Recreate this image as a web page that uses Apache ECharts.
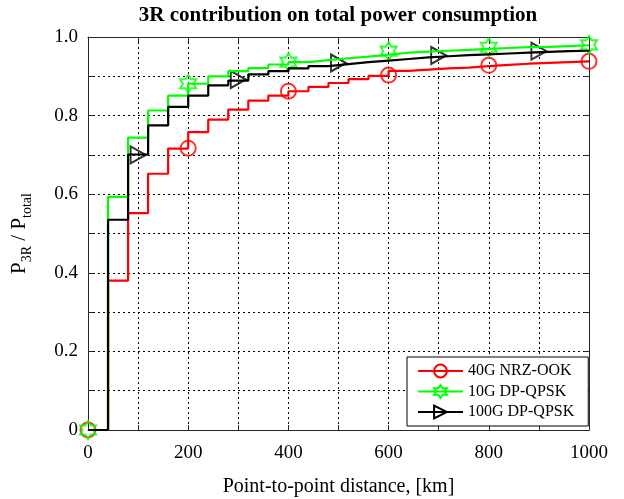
<!DOCTYPE html>
<html>
<head>
<meta charset="utf-8">
<script src="https://cdn.jsdelivr.net/npm/echarts@6/dist/echarts.min.js"></script>
<style>
html,body{margin:0;padding:0;background:#fff;}
#c{width:624px;height:499px;}
</style>
</head>
<body>
<div id="c"></div>
<script>
// Step positions (km)
const distances = [0,40,80,120,160,200,240,280,320,360,400,440,480,520,560,600,640,680,720,760,800,840,880,920,960,1000];
// Value holding from each distance to the next
const nrzOok40G = [0,0.38,0.552,0.652,0.716,0.758,0.790,0.815,0.838,0.851,0.862,0.873,0.883,0.893,0.901,0.914,0.917,0.920,0.922,0.926,0.929,0.932,0.934,0.936,0.938,0.938];
const dpQpsk10G = [0,0.593,0.744,0.813,0.851,0.881,0.900,0.913,0.921,0.930,0.936,0.941,0.946,0.950,0.955,0.960,0.963,0.965,0.967,0.970,0.972,0.974,0.975,0.977,0.979,0.979];
const dpQpsk100G = [0,0.535,0.701,0.775,0.822,0.851,0.877,0.889,0.905,0.913,0.920,0.926,0.931,0.936,0.940,0.944,0.948,0.951,0.954,0.956,0.958,0.960,0.962,0.964,0.965,0.965];

// Marker positions
const markerXA = [0,200,400,600,800,1000];
const nrzMarkers = [0,0.717,0.862,0.903,0.928,0.938];
const qpsk10Markers = [0,0.881,0.936,0.964,0.974,0.980];
const markerXB = [100,300,500,700,900];
const qpsk100Markers = [0.700,0.892,0.934,0.953,0.964];

const seriesNames = ['40G NRZ-OOK','10G DP-QPSK','100G DP-QPSK'];
const xTicks = [0,200,400,600,800,1000];
const yTicks = [0,0.2,0.4,0.6,0.8,1.0];

const RED = '#ff0000', GREEN = '#00ff00', BLACK = '#000000';
const CIRCLE = 'path://M0,10 A10,10 0 1,1 20,10 A10,10 0 1,1 0,10 Z';
const STAR = 'path://M10,0 L12.887,5 L18.66,5 L15.77,10 L18.66,15 L12.887,15 L10,20 L7.113,15 L1.34,15 L4.23,10 L1.34,5 L7.113,5 Z';
const TRI = 'path://M0,0 L20,10 L0,20 Z';
const SERIF = '"Liberation Serif","DejaVu Serif",serif';

function pairs(xs, ys){ return xs.map((x,i)=>[x, ys[i]]); }

function stepSeries(name, vals, color, sym){
  return {
    name: name, type: 'line', step: 'end', data: pairs(distances, vals),
    showSymbol: false, symbol: sym, clip: false, silent: true,
    lineStyle: {color: color, width: 2.2},
    itemStyle: {color: 'rgba(255,255,255,0)', borderColor: color, borderWidth: 2},
    animation: false
  };
}
function markerSeries(name, xs, ys, color, sym, size){
  return {
    name: name + ' markers', type: 'scatter', data: pairs(xs, ys),
    symbol: sym, symbolSize: size, clip: false, silent: true,
    itemStyle: {color: 'rgba(255,255,255,0)', borderColor: color, borderWidth: 2},
    animation: false
  };
}

const frameColor = '#262626';
const chart = echarts.init(document.getElementById('c'), null, {renderer: 'canvas'});
chart.setOption({
  backgroundColor: '#fff',
  animation: false,
  title: {
    text: '3R contribution on total power consumption',
    left: 338, top: 5, textAlign: 'center', padding: 0,
    textStyle: {fontFamily: SERIF, fontWeight: 'bold', fontSize: 21, color: '#000'}
  },
  grid: {left: 88, right: 35, top: 37, bottom: 69, containLabel: false, outerBoundsMode: 'none'},
  legend: {
    data: seriesNames,
    orient: 'vertical',
    left: 407, top: 357,
    padding: [6, 14, 6, 10],
    itemGap: 4.5,
    itemWidth: 45, itemHeight: 16,
    backgroundColor: '#fff',
    borderColor: '#000', borderWidth: 1,
    textStyle: {fontFamily: SERIF, fontSize: 16, color: '#000'},
    selectedMode: false
  },
  xAxis: [{
    type: 'value', min: 0, max: 1000, interval: 100, position: 'bottom',
    name: 'Point-to-point distance, [km]', nameLocation: 'middle', nameGap: 47,
    nameTextStyle: {fontFamily: SERIF, fontSize: 20, color: '#000'},
    axisLine: {show: true, onZero: false, lineStyle: {color: frameColor, width: 1}},
    axisTick: {show: true, inside: true, length: 5, lineStyle: {color: frameColor}},
    axisLabel: {
      fontFamily: SERIF, fontSize: 19, color: '#000', margin: 14,
      formatter: v => xTicks.indexOf(v) >= 0 ? String(v) : ''
    },
    splitLine: {show: true, lineStyle: {color: '#000', width: 1, type: [2, 3]}}
  }, {
    type: 'value', min: 0, max: 1000, interval: 100, position: 'top',
    axisLine: {show: true, onZero: false, lineStyle: {color: frameColor, width: 1}},
    axisTick: {show: true, inside: true, length: 5, lineStyle: {color: frameColor}},
    axisLabel: {show: false}, splitLine: {show: false}
  }],
  yAxis: [{
    type: 'value', min: 0, max: 1, interval: 0.1, position: 'left',
    name: '{p|P}{s|3R}{p| / P}{s|total}', nameLocation: 'middle', nameGap: 54, nameRotate: 90,
    nameTextStyle: {
      fontFamily: SERIF, color: '#000',
      rich: {
        p: {fontFamily: SERIF, fontSize: 21, color: '#000', lineHeight: 30},
        s: {fontFamily: SERIF, fontSize: 14, color: '#000', lineHeight: 12, verticalAlign: 'bottom'}
      }
    },
    axisLine: {show: true, onZero: false, lineStyle: {color: frameColor, width: 1}},
    axisTick: {show: true, inside: true, length: 5, lineStyle: {color: frameColor}},
    axisLabel: {
      fontFamily: SERIF, fontSize: 19, color: '#000', margin: 10,
      formatter: v => {
        const hit = yTicks.find(t => Math.abs(t - v) < 1e-6);
        if (hit === undefined) return '';
        return hit === 0 ? '0' : hit.toFixed(1);
      }
    },
    splitLine: {show: true, lineStyle: {color: '#000', width: 1, type: [2, 3]}}
  }, {
    type: 'value', min: 0, max: 1, interval: 0.1, position: 'right',
    axisLine: {show: true, onZero: false, lineStyle: {color: frameColor, width: 1}},
    axisTick: {show: true, inside: true, length: 5, lineStyle: {color: frameColor}},
    axisLabel: {show: false}, splitLine: {show: false}
  }],
  series: [
    stepSeries(seriesNames[0], nrzOok40G, RED, CIRCLE),
    markerSeries(seriesNames[0], markerXA, nrzMarkers, RED, CIRCLE, 15),
    stepSeries(seriesNames[1], dpQpsk10G, GREEN, STAR),
    markerSeries(seriesNames[1], markerXA, qpsk10Markers, GREEN, STAR, [16, 18]),
    stepSeries(seriesNames[2], dpQpsk100G, BLACK, TRI),
    markerSeries(seriesNames[2], markerXB, qpsk100Markers, BLACK, TRI, [15, 17])
  ]
});
</script>
</body>
</html>
